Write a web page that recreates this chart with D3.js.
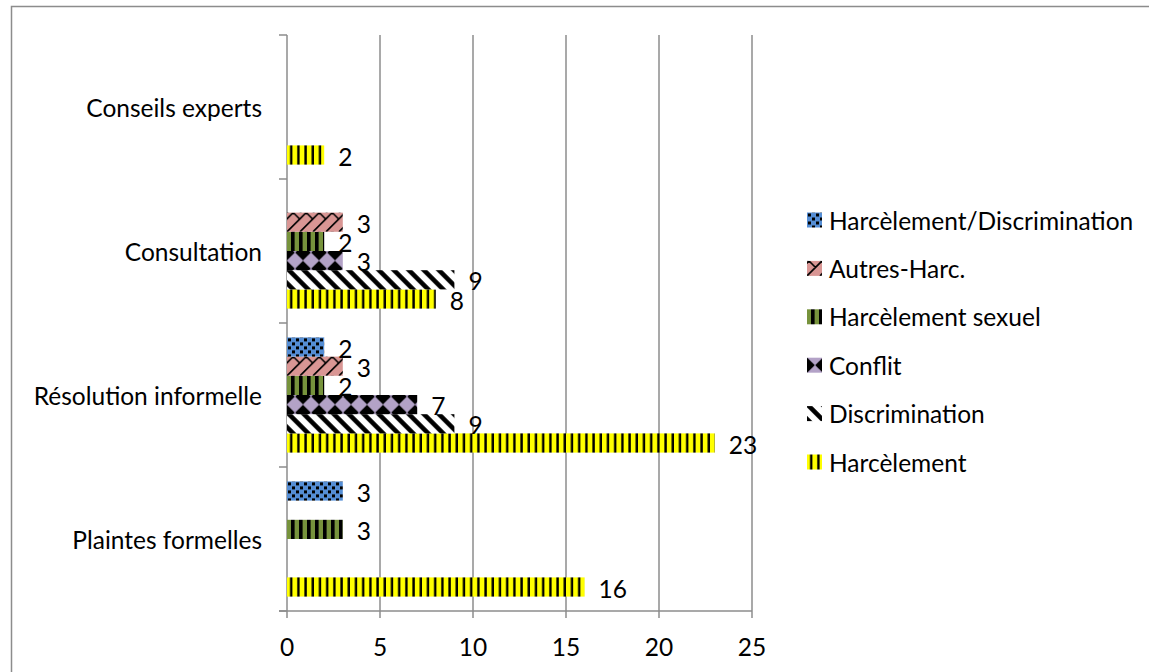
<!DOCTYPE html>
<html>
<head>
<meta charset="utf-8">
<script src="https://cdn.jsdelivr.net/npm/d3@7/dist/d3.min.js"></script>
<style>
  html, body { margin: 0; padding: 0; background: #fff; }
  svg { display: block; }
  text { font-family: Lato, "Open Sans", sans-serif; fill: #000; }
</style>
</head>
<body>
<svg id="chart" width="1149" height="672"></svg>
<script>
// Categories, listed bottom to top as on the axis
const categories = ["Plaintes formelles", "Résolution informelle", "Consultation", "Conseils experts"];

// Series values, one entry per category (null = no bar)
const harcelement = [16, 23, 8, 2];
const discrimination = [null, 9, 9, null];
const conflit = [null, 7, 3, null];
const harcelementSexuel = [3, 2, 2, null];
const autresHarc = [null, 3, 3, null];
const harcelementDiscrimination = [3, 2, null, null];

const seriesNames = ["Harcèlement", "Discrimination", "Conflit", "Harcèlement sexuel", "Autres-Harc.", "Harcèlement/Discrimination"];
const seriesValues = [harcelement, discrimination, conflit, harcelementSexuel, autresHarc, harcelementDiscrimination];

const xTicks = [0, 5, 10, 15, 20, 25];

const series = seriesNames.map((name, i) => ({ name, values: seriesValues[i], pat: "p" + i }));

const svg = d3.select("#chart");
const W = 1149, H = 672;
const plot = { left: 287, right: 752, top: 35, bottom: 611 };
const FS = 24.5;
const GRID = "#8c8c8c";

// Outer frame
svg.append("rect").attr("x", 11.5).attr("y", 6.5).attr("width", W + 20).attr("height", H + 20)
  .attr("fill", "none").attr("stroke", GRID).attr("stroke-width", 1.5);

// Fill patterns for each series; shapes are laid out relative to the
// filled element's own origin (each bar/swatch is drawn in a translated group)
const defs = svg.append("defs");
function pattern(id, w, h, ox, oy) {
  return defs.append("pattern").attr("id", id).attr("patternUnits", "userSpaceOnUse")
    .attr("x", ox || 0).attr("y", oy || 0).attr("width", w).attr("height", h);
}
function makePatterns(suffix, conflitOffsetY, tileH) {
  // Harcèlement: yellow with thin black vertical stripes
  {
    const p = pattern("p0" + suffix, 7.2, 10);
    p.append("rect").attr("width", 7.2).attr("height", 10).attr("fill", "#ffff00");
    p.append("rect").attr("x", 3).attr("width", 2.4).attr("height", 10).attr("fill", "#000");
  }
  // Discrimination: white with wide black downward diagonals
  {
    const p = pattern("p1" + suffix, 15, 15, 2, 0);
    p.append("rect").attr("width", 15).attr("height", 15).attr("fill", "#fff");
    p.append("path").attr("d", "M-4,-4 L19,19 M-4,11 L4,19 M11,-4 L19,4")
      .attr("stroke", "#000").attr("stroke-width", 4.6);
  }
  // Conflit: lavender / black diamond lattice
  {
    const p = pattern("p2" + suffix, 16, 16, 0, conflitOffsetY);
    p.append("rect").attr("width", 16).attr("height", 16).attr("fill", "#000");
    p.append("path").attr("d", "M8,-0.2 L16.2,8 L8,16.2 L-0.2,8 Z").attr("fill", "#b3a2c7");
  }
  // Harcèlement sexuel: olive green with black vertical stripes
  {
    const p = pattern("p3" + suffix, 8, 10);
    p.append("rect").attr("width", 8).attr("height", 10).attr("fill", "#77933c");
    p.append("rect").attr("x", 4).attr("width", 3.6).attr("height", 10).attr("fill", "#000");
  }
  // Autres-Harc.: rose with rising diagonals joined by short falling spurs at the top
  {
    const w = 13;
    const p = pattern("p4" + suffix, w, tileH);
    p.append("rect").attr("width", w).attr("height", tileH).attr("fill", "#d99694");
    let d = "";
    for (let k = -3; k <= 2; k++) {
      const x0 = k * w;
      d += `M${x0},${tileH} L${x0 + tileH},0 `;
      d += `M${x0 + tileH},0 L${x0 + tileH + w / 2},${w / 2} `;
    }
    p.append("path").attr("d", d)
      .attr("stroke", "#000").attr("stroke-width", 1.6).attr("fill", "none");
  }
  // Harcèlement/Discrimination: blue with black confetti squares
  {
    const p = pattern("p5" + suffix, 8, 8);
    p.append("rect").attr("width", 8).attr("height", 8).attr("fill", "#558ed5");
    p.append("rect").attr("x", 1).attr("y", 1).attr("width", 3).attr("height", 3).attr("fill", "#000");
    p.append("rect").attr("x", 5).attr("y", 5).attr("width", 3).attr("height", 3).attr("fill", "#000");
  }
}

// Scales
const x = d3.scaleLinear().domain([0, 25]).range([plot.left, plot.right]);
const y0 = d3.scaleBand().domain(categories.slice().reverse()).range([plot.top, plot.bottom]).padding(0);
const stackOrder = seriesNames.slice().reverse(); // top to bottom within a group
const y1 = d3.scaleBand().domain(stackOrder).range([0, y0.bandwidth()]).paddingInner(0).paddingOuter(0.75);

makePatterns("", y1.bandwidth() / 2 - 8, y1.bandwidth());
makePatterns("L", 7.5, 15);

// Vertical gridlines with tick marks below the axis
svg.append("g").selectAll("line").data(xTicks).join("line")
  .attr("x1", d => x(d)).attr("x2", d => x(d))
  .attr("y1", plot.top).attr("y2", plot.bottom + 7)
  .attr("stroke", GRID).attr("stroke-width", 1.5);

// Category axis: baseline at the bottom, ticks at group boundaries on the left
const bounds = categories.map(c => y0(c)).concat([plot.bottom]);
svg.append("g").selectAll("line").data(bounds).join("line")
  .attr("x1", plot.left - 8).attr("x2", plot.left)
  .attr("y1", d => d).attr("y2", d => d)
  .attr("stroke", GRID).attr("stroke-width", 1.5);
svg.append("line").attr("x1", plot.left - 8).attr("x2", plot.right)
  .attr("y1", plot.bottom).attr("y2", plot.bottom)
  .attr("stroke", GRID).attr("stroke-width", 1.5);

// X tick labels
svg.append("g").selectAll("text").data(xTicks).join("text")
  .attr("x", d => x(d)).attr("y", plot.bottom + 35)
  .attr("text-anchor", "middle").attr("dominant-baseline", "central")
  .attr("font-size", FS).text(d => d);

// Category labels
svg.append("g").selectAll("text").data(categories).join("text")
  .attr("x", plot.left - 25).attr("y", d => y0(d) + y0.bandwidth() / 2)
  .attr("text-anchor", "end").attr("dominant-baseline", "central")
  .attr("font-size", FS).text(d => d);

// Bars and value labels
const bars = [];
series.forEach(s => s.values.forEach((v, i) => {
  if (v != null) bars.push({ series: s, cat: categories[i], value: v });
}));
const barG = svg.append("g").selectAll("g").data(bars).join("g")
  .attr("transform", d => `translate(${x(0)}, ${y0(d.cat) + y1(d.series.name)})`);
barG.append("rect")
  .attr("width", d => x(d.value) - x(0))
  .attr("height", y1.bandwidth())
  .attr("fill", d => `url(#${d.series.pat})`);
barG.append("text")
  .attr("x", d => x(d.value) - x(0) + 14)
  .attr("y", y1.bandwidth() / 2 + 1)
  .attr("dominant-baseline", "central")
  .attr("font-size", FS).text(d => d.value);

// Legend, listed top to bottom
const legendItems = series.slice().reverse();
const lg = svg.append("g").selectAll("g").data(legendItems).join("g")
  .attr("transform", (d, i) => `translate(807, ${220 + i * 48.4})`);
lg.append("g").attr("transform", "translate(0,-7.5)")
  .append("rect").attr("width", 15).attr("height", 15)
  .attr("fill", d => `url(#${d.pat}L)`);
lg.append("text").attr("x", 22).attr("y", 0).attr("dominant-baseline", "central")
  .attr("font-size", FS).text(d => d.name);
</script>
</body>
</html>
